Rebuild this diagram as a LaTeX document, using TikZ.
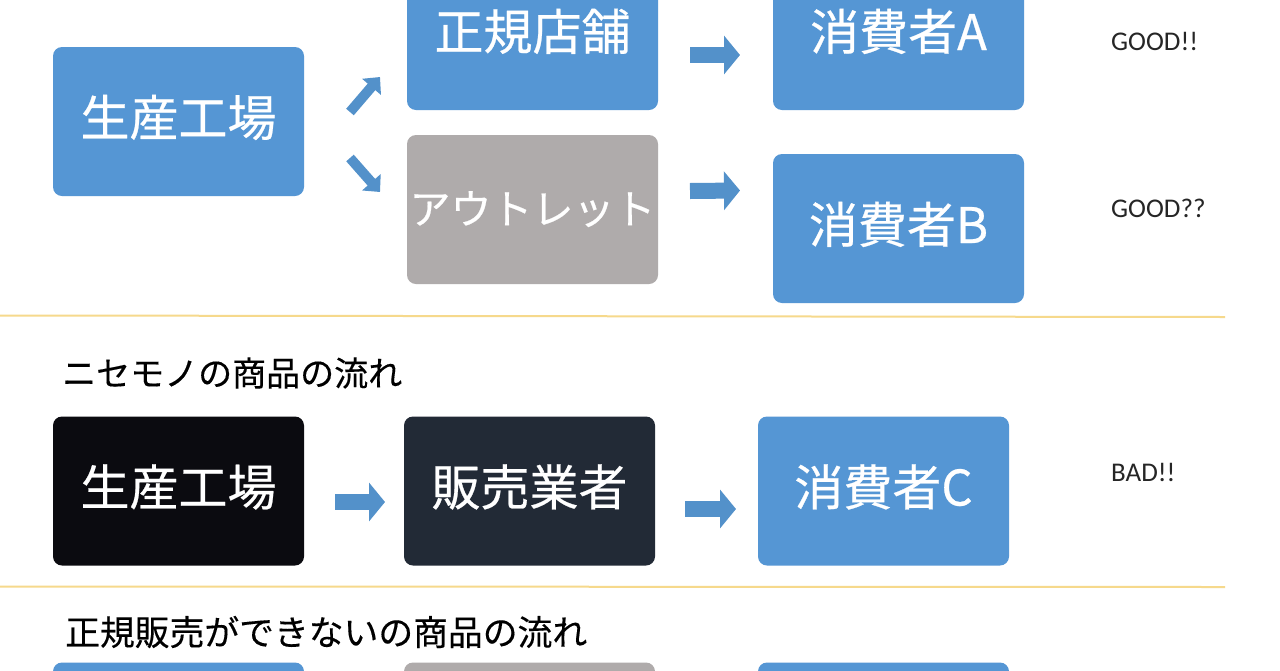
\documentclass[tikz,border=0pt]{standalone}
\usepackage{fontspec}
\setmainfont{Carlito}
\newfontfamily\cjk[FakeBold=0.5]{Noto Sans CJK JP}
\newfontfamily\cjkthin[FakeBold=0.3]{Noto Sans CJK JP}
\usetikzlibrary{arrows.meta,positioning}
\definecolor{boxblue}{HTML}{5596D4}
\definecolor{boxgrey}{HTML}{AFABAB}
\definecolor{boxblack}{HTML}{0B0B10}
\definecolor{boxdark}{HTML}{222A36}
\definecolor{flowblue}{HTML}{5391CA}
\definecolor{rulegold}{HTML}{F6D98C}
\tikzset{%
	box/.style={rectangle, rounded corners=9pt, draw=none, outer sep=0pt, inner sep=0pt, text=white,
		minimum width=251pt, minimum height=149pt, text height=36pt, text depth=7pt,
		font=\cjk\fontsize{49}{49}\selectfont},
	bluebox/.style={box, fill=boxblue},
	greybox/.style={box, fill=boxgrey},
	flow/.style={draw=flowblue, line width=16pt, -{Triangle[length=16pt,width=38pt]}},
	smallflow/.style={draw=flowblue, line width=10pt, -{Triangle[length=13pt,width=24pt]}},
	heading/.style={anchor=west, inner sep=0pt, text=black, font=\cjkthin\fontsize{34}{34}\selectfont},
	verdict/.style={anchor=west, inner sep=0pt, text=black!85, font=\fontsize{27}{27}\selectfont},
	divider/.style={draw=rulegold, line width=2pt}
}
\begin{document}
\begin{tikzpicture}[x=1pt,y=-1pt]
\useasboundingbox (0,0) rectangle (1280,670);
\clip (0,0) rectangle (1280,670);
\fill[white] (0,0) rectangle (1280,670);

\node (factory_a) [bluebox] at (178.5,121.5) {生産工場};
\node (shop) [bluebox, right=103pt of factory_a, yshift=86pt] {正規店舗};
\node (outlet) [greybox, below=25pt of shop, font=\cjk\fontsize{41}{41}\selectfont] {アウトレット};
\node (consumer_a) [bluebox, right=115pt of shop] {消費者A};
\node (consumer_b) [bluebox, below=44pt of consumer_a] {消費者B};

\node (factory_b) [box, fill=boxblack] at (178.5,491) {生産工場};
\node (seller) [box, fill=boxdark, right=100pt of factory_b] {販売業者};
\node (consumer_c) [bluebox, right=103pt of seller] {消費者C};

\node (factory_c) [bluebox, below=97pt of factory_b] {};
\node (grey_c) [greybox, below=97pt of seller] {};
\node (consumer_d) [bluebox, below=97pt of consumer_c] {};

\node (title_fake) [heading] at (62,373) {ニセモノの商品の流れ};
\node (title_other) [heading, font=\cjkthin\fontsize{34.8}{34.8}\selectfont] at (65,632) {正規販売ができないの商品の流れ};

\node (good_a) [verdict] at (1111,41) {GOOD!!};
\node (good_b) [verdict] at (1111,208) {GOOD??};
\node (bad_c) [verdict] at (1111,472) {BAD!!};

\coordinate (rule_a_l) at (0,315.5);
\coordinate (rule_a_r) at (1225,317);
\coordinate (rule_b_l) at (0,586.5);
\coordinate (rule_b_r) at (1225,587);
\draw[divider] (rule_a_l) -- (rule_a_r);
\draw[divider] (rule_b_l) -- (rule_b_r);

\draw[smallflow] ([shift={(46,-9.5)}]factory_a.east) -- ([shift={(-27,41.5)}]shop.west);
\draw[smallflow] ([shift={(46,36.5)}]factory_a.east) -- ([shift={(-27,-17.5)}]outlet.west);
\draw[flow] ([shift={(32,19.5)}]shop.east) -- ([shift={(-33,19.5)}]consumer_a.west);
\draw[flow] ([shift={(32,-18.5)}]outlet.east) -- ([shift={(-33,-38)}]consumer_b.west);
\draw[flow] ([shift={(31,11)}]factory_b.east) -- ([shift={(-19,11)}]seller.west);
\draw[flow] ([shift={(30,18)}]seller.east) -- ([shift={(-22,18)}]consumer_c.west);
\end{tikzpicture}
\end{document}
